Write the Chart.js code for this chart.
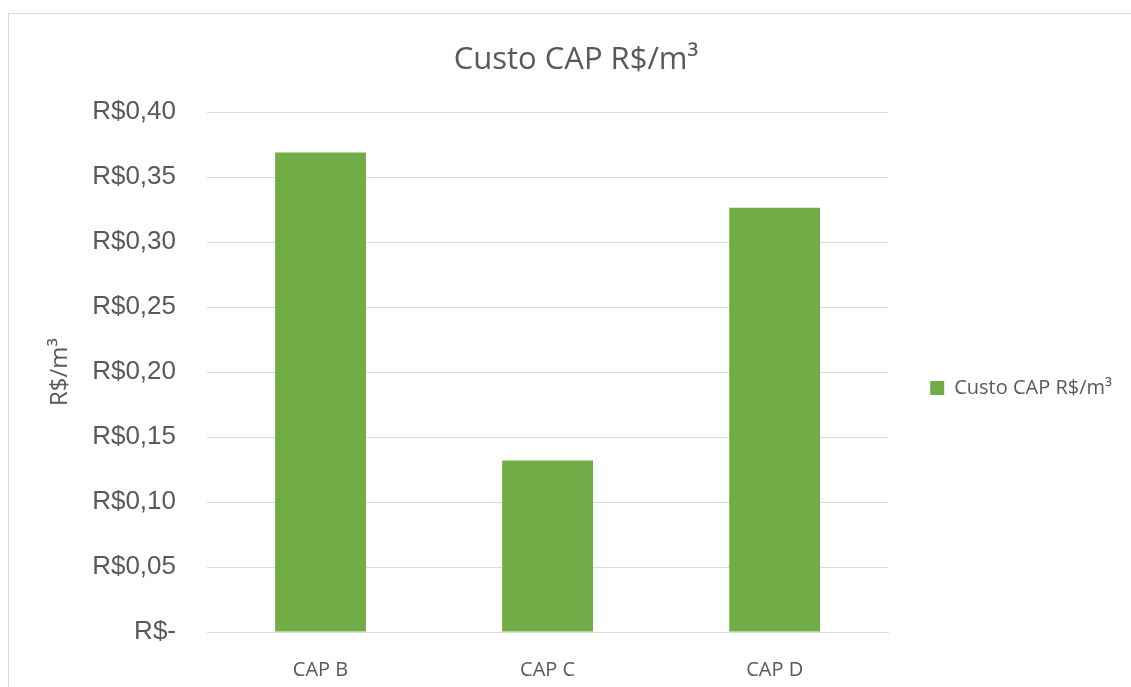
<!DOCTYPE html>
<html>
<head>
<meta charset="utf-8">
<script src="https://cdn.jsdelivr.net/npm/chart.js@4"></script>
<style>
  html, body { margin: 0; padding: 0; background: #fff; overflow: hidden; width: 1131px; height: 687px; }
  #frame { position: absolute; left: 8px; top: 13px; width: 1140px; height: 760px; border: 1px solid #d9d9d9; box-sizing: border-box; }
  #chart { position: absolute; left: 8px; top: 13px; }
</style>
</head>
<body>
<div id="frame"></div>
<canvas id="chart" width="1136" height="750"></canvas>
<script>
// dados do gráfico
const categories  = ['CAP B', 'CAP C', 'CAP D'];
const custoCap    = [0.369, 0.132, 0.3265];
const tickLabels  = ['R$-', 'R$0,05', 'R$0,10', 'R$0,15', 'R$0,20', 'R$0,25', 'R$0,30', 'R$0,35', 'R$0,40'];
const seriesLabel = 'Custo CAP R$/m³';

const grey = '#595959';

new Chart(document.getElementById('chart').getContext('2d'), {
  type: 'bar',
  data: {
    labels: categories,
    datasets: [{
      label: seriesLabel,
      data: custoCap,
      backgroundColor: '#70ad47',
      borderWidth: 0,
      categoryPercentage: 1,
      barPercentage: 0.4
    }]
  },
  options: {
    responsive: false,
    animation: false,
    layout: { padding: { left: 22, right: 22, top: 0, bottom: 0 } },
    plugins: {
      title: {
        display: true,
        text: seriesLabel,
        color: grey,
        font: { family: 'Open Sans', size: 31, weight: 'normal' },
        padding: { top: 29, bottom: 33 }
      },
      legend: {
        position: 'right',
        labels: {
          color: grey,
          font: { family: 'Open Sans', size: 20 },
          boxWidth: 14,
          boxHeight: 14,
          padding: 42
        }
      },
      tooltip: { enabled: false }
    },
    scales: {
      x: {
        grid: { display: false },
        border: { display: true, color: '#d9d9d9' },
        ticks: {
          color: grey,
          font: { family: 'Open Sans', size: 20 },
          padding: 18
        },
        afterFit: s => { s.height = 131; }
      },
      y: {
        min: 0,
        max: 0.4,
        grid: { color: '#d9d9d9', drawTicks: false },
        border: { display: false },
        ticks: {
          stepSize: 0.05,
          color: grey,
          font: { family: 'Liberation Sans', size: 26 },
          padding: 31,
          callback: (v, i) => tickLabels[i]
        },
        title: {
          display: true,
          text: 'R$/m³',
          color: grey,
          font: { family: 'Open Sans', size: 24 },
          padding: { top: 16, bottom: 0 }
        },
        afterFit: s => { s.width = 177; }
      }
    }
  }
});
</script>
</body>
</html>
